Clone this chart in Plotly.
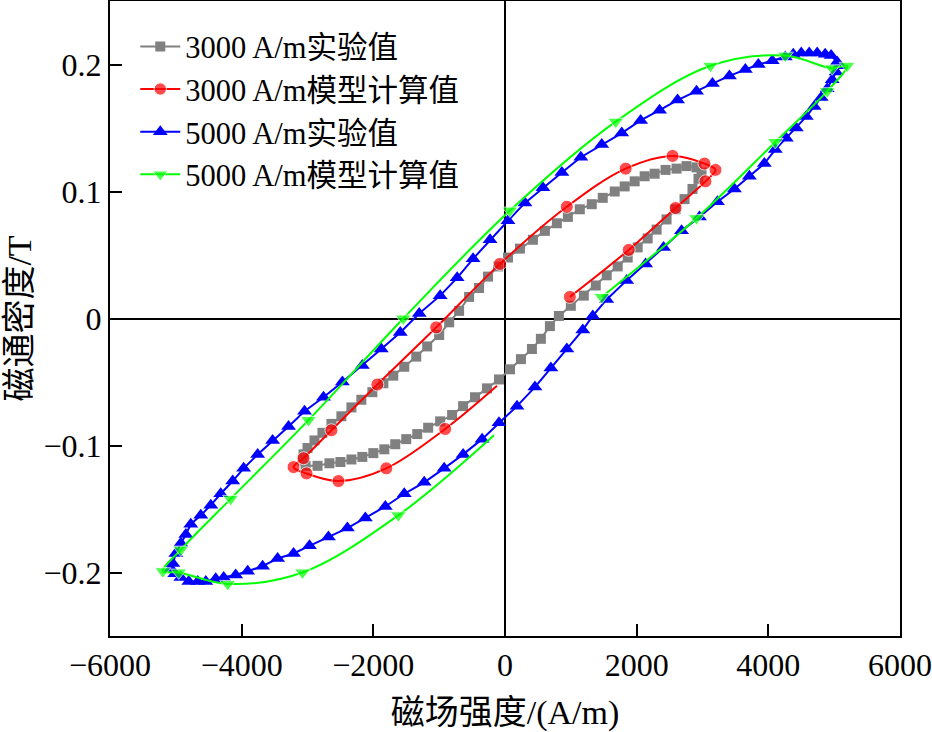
import plotly.graph_objects as go

# ---- 3000 A/m experimental (gray squares) ----
gray_h = [-3030, -2848, -2667, -2500, -2333, -2167, -2000, -1833, -1667, -1500, -1333, -1167, -985, -803,
          -636, -455, -273, -91, 76, 242, 409, 545, 682, 818, 1000, 1197, 1379, 1545, 1712, 1864, 2015,
          2167, 2303, 2454, 2591, 2727, 2848, 2939, 2985,
          2909, 2757, 2606, 2439, 2273, 2121, 1970, 1818, 1667, 1485, 1318, 1136, 955, 788, 606, 424, 227,
          45, -106, -258, -394, -545, -697, -848, -1000, -1182, -1348, -1530, -1697, -1848, -2015, -2182,
          -2333, -2485, -2636, -2773, -2894, -3000, -3060, -3076]
gray_b = [-0.116, -0.116, -0.114, -0.113, -0.111, -0.109, -0.106, -0.103, -0.099, -0.095, -0.091, -0.086,
          -0.081, -0.076, -0.069, -0.062, -0.055, -0.048, -0.040, -0.032, -0.024, -0.016, -0.006, 0.002,
          0.010, 0.018, 0.026, 0.034, 0.041, 0.048, 0.056, 0.063, 0.070, 0.078, 0.086, 0.094, 0.102, 0.110,
          0.115,
          0.119, 0.120, 0.118, 0.117, 0.114, 0.112, 0.108, 0.104, 0.100, 0.095, 0.090, 0.086, 0.080, 0.075,
          0.069, 0.062, 0.055, 0.048, 0.041, 0.033, 0.024, 0.017, 0.006, -0.003, -0.013, -0.022, -0.030,
          -0.038, -0.045, -0.051, -0.058, -0.064, -0.070, -0.077, -0.083, -0.090, -0.096, -0.102, -0.107,
          -0.112]

# ---- 3000 A/m model (red circles), last point is the line end (no marker) ----
red_h = [985, 1879, 2591, 3045, 3197, 3030, 2545, 1833, 939, -76, -1045, -1939, -2636, -3060, -3212,
         -3015, -2530, -1803, -909, -121]
red_b = [0.017, 0.054, 0.087, 0.108, 0.117, 0.122, 0.128, 0.118, 0.088, 0.043, -0.007, -0.052, -0.088,
         -0.110, -0.117, -0.122, -0.128, -0.118, -0.087, -0.053]

# ---- 5000 A/m experimental (blue triangles) ----
blue_h = [-5015, -4924, -4803, -4667, -4545, -4394, -4273, -4091, -3909, -3682, -3454, -3212, -2970, -2682,
          -2394, -2121, -1818, -1530, -1227, -924, -636, -348, -91, 182, 455, 697, 939, 1182, 1333, 1545,
          1848, 2136, 2409, 2682, 2954, 3227, 3485, 3712, 3939, 4106, 4273, 4424, 4576, 4697, 4803, 4894,
          4970, 5030, 5076,
          5045, 4954, 4863, 4742, 4621, 4500, 4379, 4257, 4060, 3848, 3651, 3409, 3151, 2909, 2621, 2348,
          2060, 1773, 1470, 1152, 864, 576, 303, 45, -227, -485, -727, -985, -1303, -1591, -1879, -2167,
          -2470, -2757, -3045, -3288, -3530, -3757, -3970, -4136, -4318, -4469, -4621, -4773, -4848, -4924,
          -5000, -5045, -5076]
blue_b = [-0.201, -0.204, -0.207, -0.207, -0.207, -0.205, -0.204, -0.202, -0.199, -0.195, -0.189, -0.185,
          -0.179, -0.172, -0.165, -0.157, -0.148, -0.138, -0.129, -0.118, -0.107, -0.095, -0.082, -0.069,
          -0.054, -0.039, -0.024, -0.009, 0.002, 0.015, 0.030, 0.043, 0.056, 0.069, 0.080, 0.092, 0.102,
          0.112, 0.122, 0.133, 0.142, 0.150, 0.159, 0.167, 0.174, 0.181, 0.188, 0.194, 0.199,
          0.202, 0.207, 0.208, 0.209, 0.209, 0.209, 0.208, 0.206, 0.203, 0.200, 0.196, 0.191, 0.185, 0.179,
          0.172, 0.164, 0.156, 0.146, 0.137, 0.127, 0.115, 0.103, 0.091, 0.077, 0.062, 0.047, 0.032, 0.018,
          0.004, -0.011, -0.024, -0.037, -0.050, -0.062, -0.073, -0.085, -0.096, -0.107, -0.118, -0.128,
          -0.138, -0.147, -0.155, -0.162, -0.170, -0.177, -0.185, -0.193, -0.197]

# ---- 5000 A/m model (green inverted triangles), last point is the line end (no marker) ----
green_h = [1470, 2909, 4106, 4894, 5197, 4970, 4257, 3121, 1682, 76, -1545, -2985, -4167, -4924, -5197,
           -4955, -4212, -3076, -1621, -167]
green_b = [0.017, 0.079, 0.139, 0.179, 0.199, 0.197, 0.207, 0.199, 0.155, 0.085, 0.000, -0.080, -0.142,
           -0.182, -0.199, -0.200, -0.209, -0.200, -0.155, -0.092]

names = ["3000 A/m实验值", "3000 A/m模型计算值", "5000 A/m实验值", "5000 A/m模型计算值"]
x_ticks = [-6000, -4000, -2000, 0, 2000, 4000, 6000]
y_ticks = [-0.2, -0.1, 0, 0.1, 0.2]

FONT = "Liberation Serif, 'Times New Roman', 'Noto Sans CJK SC', serif"

fig = go.Figure()
fig.add_trace(go.Scatter(x=gray_h, y=gray_b, mode="lines+markers", name=names[0],
                         line=dict(color="#808080", width=2),
                         marker=dict(symbol="square", size=10, color="#808080")))
fig.add_trace(go.Scatter(x=red_h, y=red_b, mode="lines+markers", name=names[1],
                         line=dict(color="#FF0000", width=2, shape="spline"),
                         marker=dict(symbol="circle", size=[13] * (len(red_h) - 1) + [0], color="#FF0000")))
fig.add_trace(go.Scatter(x=blue_h, y=blue_b, mode="lines+markers", name=names[2],
                         line=dict(color="#0000FF", width=2),
                         marker=dict(symbol="triangle-up", size=13, color="#0000FF")))
fig.add_trace(go.Scatter(x=green_h, y=green_b, mode="lines+markers", name=names[3],
                         line=dict(color="#00FF00", width=2, shape="spline"),
                         marker=dict(symbol="triangle-down", size=[14] * (len(green_h) - 1) + [0],
                                     color="#00FF00")))

axis_common = dict(showgrid=False, showline=True, linecolor="black", linewidth=2, mirror=True,
                   ticks="inside", ticklen=12, tickwidth=2, tickcolor="black",
                   zeroline=True, zerolinecolor="black", zerolinewidth=1.5, automargin=False,
                   tickfont=dict(family=FONT, size=32, color="black"))

fig.update_layout(
    width=932, height=732,
    margin=dict(l=110, r=32, t=1, b=96, autoexpand=False),
    paper_bgcolor="white", plot_bgcolor="white",
    font=dict(family=FONT, color="black"),
    xaxis=dict(range=[-6000, 6000], tickvals=x_ticks,
               title=dict(text="磁场强度/(A/m)", font=dict(family=FONT, size=34), standoff=18),
               **axis_common),
    yaxis=dict(range=[-0.25, 0.25], tickvals=y_ticks,
               title=dict(text="磁通密度/T", font=dict(family=FONT, size=34), standoff=2),
               **axis_common),
    legend=dict(x=0.032, y=0.970, xanchor="left", yanchor="top", bgcolor="rgba(0,0,0,0)",
                font=dict(family=FONT, size=30.5, color="black"), tracegroupgap=0, itemwidth=40),
    showlegend=True,
)

fig.write_html("out.html", config={"displayModeBar": False},
               post_script="document.body.style.margin='0';document.body.style.overflow='hidden';")
